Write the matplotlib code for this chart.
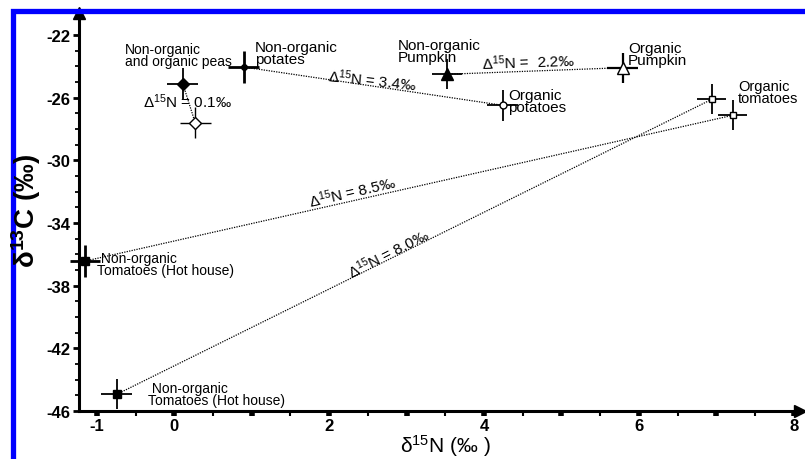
import matplotlib
matplotlib.use("Agg")
import matplotlib.pyplot as plt
from matplotlib.patches import Rectangle

plt.rcParams['font.family'] = ['Liberation Sans', 'DejaVu Sans']
plt.rcParams['mathtext.default'] = 'regular'

# ---- data (delta15N, delta13C, x error, y error) ----
names = ["NO peas", "O peas", "NO potatoes", "O potatoes", "NO pumpkin", "O pumpkin",
         "O tomatoes 1", "O tomatoes 2", "NO tomatoes HH 1", "NO tomatoes HH 2"]
d15N = [0.11, 0.27, 0.90, 4.24, 3.52, 5.79, 6.94, 7.21, -1.15, -0.74]
d13C = [-25.1, -27.6, -24.05, -26.49, -24.51, -24.09, -26.11, -27.13, -36.43, -44.93]
xerr = [0.2, 0.2, 0.2, 0.2, 0.19, 0.2, 0.19, 0.19, 0.19, 0.2]
yerr = [1.0, 1.0, 1.0, 1.0, 0.95, 0.95, 0.95, 0.95, 1.0, 0.95]
markers = ["D", "D", "o", "o", "^", "^", "s", "s", "s", "s"]
filled = [True, False, True, False, True, False, False, False, True, True]
msizes = [6, 6, 4, 5, 9, 9, 5, 5, 5.5, 5.5]
elw = [1.3, 1.0, 2.0, 1.3, 1.3, 1.6, 1.3, 1.3, 2.0, 1.3]

# connecting pairs (index pairs)
pairs = [(0, 1), (2, 3), (4, 5), (8, 7), (9, 6)]

xticks_major = [-1, 0, 1, 2, 3, 4, 5, 6, 7, 8]
xtick_labels = ["-1", "0", "", "2", "", "4", "", "6", "", "8"]
yticks_major = [-22, -26, -30, -34, -38, -42, -46]

W, H = 805, 460
fig = plt.figure(figsize=(W / 100, H / 100), dpi=100)
ax = fig.add_axes([79 / W, 48 / H, (800 - 79) / W, (412 - 14) / H])

for a, b in pairs:
    ax.plot([d15N[a], d15N[b]], [d13C[a], d13C[b]], color="black", lw=0.9,
            ls=(0, (1, 1)), zorder=2)

for i in range(len(d15N)):
    ax.errorbar(d15N[i], d13C[i], xerr=xerr[i], yerr=yerr[i], fmt=markers[i],
                ms=msizes[i], mfc="black" if filled[i] else "white", mec="black",
                mew=1.0, ecolor="black", elinewidth=elw[i], capsize=0, zorder=3,
                clip_on=False)

ax.set_xlim(-1.23, 8.08)
ax.set_ylim(-46, -20.6)

for s in ["top", "right"]:
    ax.spines[s].set_visible(False)
for s in ["left", "bottom"]:
    ax.spines[s].set_linewidth(2.2)

# arrow heads
ax.plot(0, 1, marker="^", ms=9, color="black", transform=ax.transAxes, clip_on=False)
ax.plot(1, 0, marker=">", ms=9, color="black", transform=ax.transAxes, clip_on=False)

ax.set_xticks(xticks_major)
ax.set_xticklabels(xtick_labels, fontweight="bold", fontsize=12)
ax.set_xticks([-0.5 + k for k in range(9)], minor=True)
ax.set_yticks(yticks_major)
ax.set_yticklabels([str(v) for v in yticks_major], fontweight="bold", fontsize=12)
ax.set_yticks([v for v in range(-45, -20) if v not in yticks_major], minor=True)
ax.tick_params(axis="x", which="major", direction="out", length=3.5, width=4, pad=1.5)
ax.tick_params(axis="x", which="minor", direction="out", length=3.5, width=1.5)
ax.tick_params(axis="y", which="major", direction="out", length=4, width=2, pad=2)
ax.tick_params(axis="y", which="minor", direction="out", length=3, width=1.3)

def ftxt(px, py, s, **kw):
    fig.text(px / W, 1 - py / H, s, **kw)

# axis labels
ftxt(445, 446, "δ$^{15}$N (‰ )", fontsize=15, ha="center", va="center")
ftxt(26, 211, "δ$^{13}$C (‰)", fontsize=20, ha="center", va="center",
     rotation=90, fontweight="bold")

# point labels
lab = dict(ha="left", va="top", linespacing=0.8, color="black")
ftxt(125, 43, "Non-organic\nand organic peas", fontsize=10, **lab)
ftxt(255, 41, "Non-organic\npotates", fontsize=11, **lab)
ftxt(398, 39, "Non-organic\nPumpkin", fontsize=11, **lab)
ftxt(628, 42, "Organic\nPumpkin", fontsize=11, **lab)
ftxt(508, 89, "Organic\npotatoes", fontsize=11, **lab)
ftxt(738, 80, "Organic\ntomatoes", fontsize=10.5, **lab)
ftxt(97, 252, " Non-organic\nTomatoes (Hot house)", fontsize=10, **lab)
ftxt(148, 382, " Non-organic\nTomatoes (Hot house)", fontsize=10, **lab)

# delta labels
dl = dict(ha="center", va="center", fontsize=11)
ftxt(187, 102, "Δ$^{15}$N = 0.1‰", **dl)
ftxt(372, 80, "Δ$^{15}$N = 3.4‰", rotation=-6, **dl)
ftxt(528, 62, "Δ$^{15}$N =  2.2‰", rotation=2, **dl)
ftxt(352, 192, "Δ$^{15}$N = 8.5‰", rotation=13, **dl)
ftxt(388, 254, "Δ$^{15}$N = 8.0‰", rotation=27, **dl)

# blue frame
fig.patches.append(Rectangle((12.5 / W, -0.2), 1.3, 1 - 12 / H + 0.2,
                             transform=fig.transFigure, fill=False,
                             edgecolor="#0000ff", lw=3.8))

fig.savefig("out.png", dpi=100)
